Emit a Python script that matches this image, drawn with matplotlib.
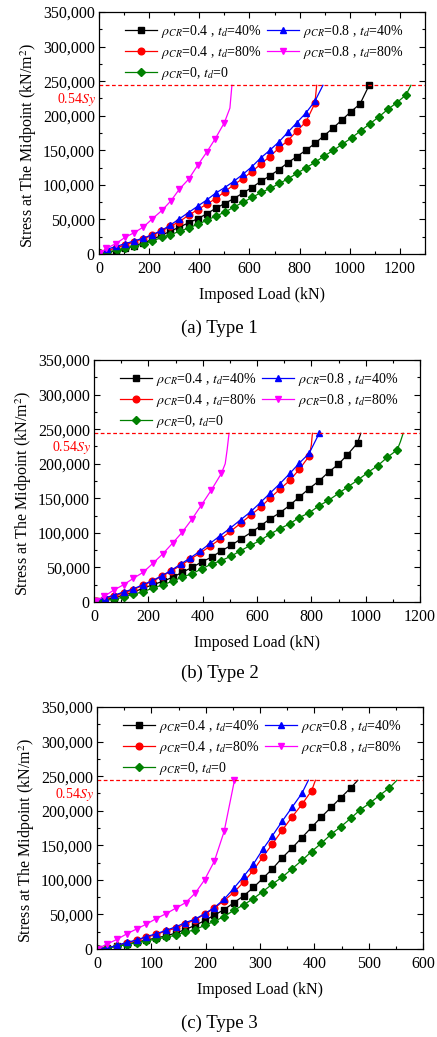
import matplotlib
matplotlib.use("Agg")
import matplotlib.pyplot as plt
import matplotlib.transforms as mtransforms
from matplotlib.ticker import MultipleLocator, FuncFormatter

plt.rcParams["font.family"] = ["Liberation Serif", "DejaVu Serif"]
plt.rcParams["mathtext.fontset"] = "stix"

LIMIT = 244000  # 0.54Sy

# ---- (a) Type 1 ----
p1_black_x = [5, 33, 69, 105, 141, 177, 213, 249, 285, 321, 357, 393, 429, 465, 501, 537,
              573, 609, 645, 681, 717, 753, 789, 825, 861, 897, 933, 969, 1005, 1041, 1077]
p1_black_y = [0.5, 2, 5, 8, 12, 16, 21, 27, 33, 39, 45, 51, 58, 66, 73, 80,
              88, 96, 105, 113, 122, 132, 141, 150, 160, 171, 182, 194, 206, 217, 244]
p1_red_x = [5, 33, 69, 105, 141, 177, 213, 249, 285, 321, 357, 393, 429, 465, 501, 537,
            573, 609, 645, 681, 717, 753, 789, 825, 861]
p1_red_y = [1.5, 5, 9, 13, 18, 22, 27, 33, 40, 47, 56, 64, 72, 80, 90, 100,
            109, 119, 130, 141, 153, 164, 178, 191, 218]
p1_red_tail_x, p1_red_tail_y = [868], [244]
p1_blue_x = [5, 33, 69, 105, 141, 177, 213, 249, 285, 321, 357, 393, 429, 465, 501, 537,
             573, 609, 645, 681, 717, 753, 789, 825, 861]
p1_blue_y = [2, 7, 11, 15, 19, 23, 28, 34, 42, 51, 60, 69, 78, 88, 96, 105,
             115, 126, 139, 150, 162, 176, 190, 204, 221]
p1_blue_tail_x, p1_blue_tail_y = [893], [244]
p1_mag_x = [5, 29, 67, 104, 141, 177, 213, 251, 287, 321, 357, 393, 429, 464, 500]
p1_mag_y = [1, 8, 15, 24, 31, 39, 51, 63, 77, 94, 108, 128, 147, 167, 190]
p1_mag_tail_x, p1_mag_tail_y = [522, 530], [211, 244]
p1_green_x = [5, 33, 71, 105, 141, 179, 213, 251, 285, 323, 359, 395, 431, 467, 504, 539,
              575, 611, 647, 683, 719, 755, 791, 827, 863, 899, 935, 971, 1007, 1043, 1079,
              1115, 1151, 1188, 1224]
p1_green_y = [0.8, 2.9, 5.3, 8.2, 11, 15, 19, 24, 28, 33, 38, 43, 49, 55, 61, 68,
              75, 82, 89, 95, 102, 109, 117, 125, 133, 142, 150, 159, 168, 178, 188,
              198, 209, 219, 230]
p1_green_tail_x, p1_green_tail_y = [1244], [244]

# ---- (b) Type 2 ----
p2_black_x = [6, 37, 72, 109, 144, 181, 217, 254, 291, 325, 361, 397, 433, 469, 505, 540,
              580, 613, 647, 684, 721, 756, 792, 828, 864, 899, 933, 970]
p2_black_y = [1, 3, 6, 10, 14, 20, 25, 30, 36, 43, 50, 58, 65, 74, 82, 91,
              101, 110, 120, 129, 140, 152, 164, 175, 188, 199, 213, 230]
p2_black_tail_x, p2_black_tail_y = [982], [244]
p2_red_x = [6, 40, 75, 110, 145, 180, 215, 250, 285, 320, 355, 392, 428, 465, 502, 540,
            578, 613, 647, 684, 721, 756, 792]
p2_red_y = [1, 5, 9, 13, 18, 24, 30, 37, 45, 53, 62, 71, 81, 91, 102, 114,
            126, 137, 150, 163, 176, 192, 211]
p2_red_tail_x, p2_red_tail_y = [800, 804], [227, 244]
p2_blue_x = [6, 40, 75, 110, 145, 180, 215, 250, 285, 320, 355, 392, 428, 465, 502, 540,
             578, 613, 647, 684, 721, 756, 792, 829]
p2_blue_y = [1, 6, 10, 14.5, 19, 25, 31, 38, 46, 55, 64, 74, 85, 96, 107, 119,
             131, 144, 157, 171, 186, 201, 215, 244]
p2_blue_tail_x, p2_blue_tail_y = [], []
p2_mag_x = [6, 37, 72, 109, 144, 181, 217, 254, 289, 325, 361, 395, 432, 469]
p2_mag_y = [1, 8, 17, 25, 34, 43, 56, 70, 85, 101, 120, 140, 162, 186]
p2_mag_tail_x, p2_mag_tail_y = [483, 490, 497], [200, 220, 244]
p2_green_x = [6, 37, 72, 109, 144, 181, 217, 254, 289, 325, 361, 397, 433, 469, 503, 539,
              576, 612, 647, 684, 720, 755, 792, 828, 863, 900, 936, 970, 1007, 1044, 1079, 1116]
p2_green_y = [0.5, 2.4, 4, 7, 11, 15, 20, 25, 30, 36, 41, 48, 55, 60, 66, 74,
              82, 89, 98, 106, 113, 122, 129, 139, 147, 157, 167, 176, 187, 197, 209, 220]
p2_green_tail_x, p2_green_tail_y = [1128, 1138], [232, 244]

# ---- (c) Type 3 ----
p3_black_x = [1, 19, 37, 55, 73, 91, 109, 127, 145, 162, 180, 198, 216, 234, 252, 270,
              288, 305, 323, 341, 359, 377, 395, 413, 431, 449, 467]
p3_black_y = [0.3, 1.5, 4.5, 7, 10, 13, 16, 19, 23, 28, 34, 41, 49, 57, 67, 77,
              89, 102, 116, 132, 146, 161, 176, 191, 205, 219, 233]
p3_black_tail_x, p3_black_tail_y = [480], [244]
p3_red_x = [1, 19, 37, 55, 73, 91, 109, 127, 145, 162, 180, 198, 216, 234, 252, 270,
            288, 305, 323, 341, 359, 377, 395]
p3_red_y = [0.3, 1.5, 5, 9, 12.5, 17, 21, 26, 30, 36, 42, 50, 59, 70, 82, 97,
            114, 133, 152, 172, 191, 209, 229]
p3_red_tail_x, p3_red_tail_y = [402], [244]
p3_blue_x = [1, 19, 37, 55, 73, 91, 109, 127, 145, 162, 180, 198, 216, 234, 252, 270,
             288, 305, 323, 341, 359, 377]
p3_blue_y = [0.3, 1.5, 5.3, 9.6, 13, 18, 22, 27, 32, 38, 43, 51, 60, 72, 88, 105,
             123, 144, 164, 185, 205, 225]
p3_blue_tail_x, p3_blue_tail_y = [389], [244]
p3_mag_x = [1, 18, 37, 55, 73, 91, 109, 127, 145, 163, 181, 198, 216, 234, 253]
p3_mag_y = [0.3, 7, 14, 22, 29, 36, 44, 51, 59, 67, 81, 100, 127, 170, 244]
p3_mag_tail_x, p3_mag_tail_y = [], []
p3_green_x = [1, 19, 37, 55, 73, 91, 109, 127, 145, 162, 180, 198, 216, 234, 252, 270,
              288, 305, 323, 341, 359, 377, 395, 413, 431, 449, 467, 484, 502, 520, 538]
p3_green_y = [0.3, 1.5, 4, 6.5, 9, 12, 14, 17, 20, 24, 28, 34, 40, 47, 56, 64,
              73, 83, 94, 104, 116, 128, 141, 153, 166, 177, 189, 201, 211, 222, 233]
p3_green_tail_x, p3_green_tail_y = [552], [244]

labels = [r"$\rho_{CR}$=0.4 , $t_d$=40%", r"$\rho_{CR}$=0.4 , $t_d$=80%",
          r"$\rho_{CR}$=0, $t_d$=0", r"$\rho_{CR}$=0.8 , $t_d$=40%",
          r"$\rho_{CR}$=0.8 , $t_d$=80%"]
colors = ["black", "red", "#008000", "blue", "magenta"]
markers = ["s", "o", "D", "^", "v"]
msizes = [4.8, 4.8, 4.0, 5.0, 5.0]

panels = [
    dict(rect=[99 / 437, 1 - 254 / 1037, 326 / 437, 242 / 1037], xmax=1300, xmaj=200, xmin=100,
         caption="(a) Type 1", cap_y=1 - 328 / 1037,
         series=[(p1_black_x, p1_black_y, [], []),
                 (p1_red_x, p1_red_y, p1_red_tail_x, p1_red_tail_y),
                 (p1_green_x, p1_green_y, p1_green_tail_x, p1_green_tail_y),
                 (p1_blue_x, p1_blue_y, p1_blue_tail_x, p1_blue_tail_y),
                 (p1_mag_x, p1_mag_y, p1_mag_tail_x, p1_mag_tail_y)]),
    dict(rect=[94 / 437, 1 - 602 / 1037, 326 / 437, 242 / 1037], xmax=1200, xmaj=200, xmin=100,
         caption="(b) Type 2", cap_y=1 - 673 / 1037,
         series=[(p2_black_x, p2_black_y, p2_black_tail_x, p2_black_tail_y),
                 (p2_red_x, p2_red_y, p2_red_tail_x, p2_red_tail_y),
                 (p2_green_x, p2_green_y, p2_green_tail_x, p2_green_tail_y),
                 (p2_blue_x, p2_blue_y, p2_blue_tail_x, p2_blue_tail_y),
                 (p2_mag_x, p2_mag_y, p2_mag_tail_x, p2_mag_tail_y)]),
    dict(rect=[97 / 437, 1 - 949 / 1037, 326 / 437, 242 / 1037], xmax=600, xmaj=100, xmin=50,
         caption="(c) Type 3", cap_y=1 - 1023 / 1037,
         series=[(p3_black_x, p3_black_y, p3_black_tail_x, p3_black_tail_y),
                 (p3_red_x, p3_red_y, p3_red_tail_x, p3_red_tail_y),
                 (p3_green_x, p3_green_y, p3_green_tail_x, p3_green_tail_y),
                 (p3_blue_x, p3_blue_y, p3_blue_tail_x, p3_blue_tail_y),
                 (p3_mag_x, p3_mag_y, p3_mag_tail_x, p3_mag_tail_y)]),
]

fig = plt.figure(figsize=(4.37, 10.37), dpi=100)

for p in panels:
    ax = fig.add_axes(p["rect"])
    for (x, y, tx, ty), c, m, ms, lab in zip(p["series"], colors, markers, msizes, labels):
        xs = list(x) + list(tx)
        ys = [v * 1000 for v in list(y) + list(ty)]
        ax.plot(xs, ys, color=c, lw=0.9, marker=m, ms=ms, markevery=list(range(len(x))),
                label=lab)

    ax.axhline(LIMIT, color="red", ls=(0, (3, 2)), lw=0.9)
    trans = mtransforms.blended_transform_factory(ax.transAxes, ax.transData)
    ax.text(-0.008, LIMIT - 20000, "0.54$\\mathit{Sy}$", color="red", fontsize=10,
            ha="right", va="center", transform=trans)

    ax.set_xlim(0, p["xmax"])
    ax.set_ylim(0, 350000)
    ax.xaxis.set_major_locator(MultipleLocator(p["xmaj"]))
    ax.xaxis.set_minor_locator(MultipleLocator(p["xmin"]))
    ax.yaxis.set_major_locator(MultipleLocator(50000))
    ax.yaxis.set_minor_locator(MultipleLocator(25000))
    ax.yaxis.set_major_formatter(FuncFormatter(lambda v, pos: f"{int(v):,}"))
    ax.tick_params(which="both", direction="in", top=True, right=True, labelsize=11.5)
    ax.tick_params(which="major", length=4.5, width=0.8)
    ax.tick_params(which="minor", length=2.5, width=0.8)
    ax.tick_params(axis="x", pad=5)
    ax.tick_params(axis="y", pad=3)
    for s in ax.spines.values():
        s.set_linewidth(0.9)

    ax.set_xlabel("Imposed Load (kN)", fontsize=11.5, labelpad=7)
    ax.set_ylabel("Stress at The Midpoint (kN/m$^2$)", fontsize=11.5)
    ax.yaxis.set_label_coords(-0.185, 0.45)

    ax.legend(loc="upper left", bbox_to_anchor=(0.08, 0.955), ncol=2, frameon=False,
              fontsize=10, handlelength=2.3, handletextpad=0.3, columnspacing=0.4,
              labelspacing=0.3, borderaxespad=0, borderpad=0)

    fig.text(0.503, p["cap_y"], p["caption"], ha="center", va="center", fontsize=13.5)

fig.savefig("out.png", dpi=100)
